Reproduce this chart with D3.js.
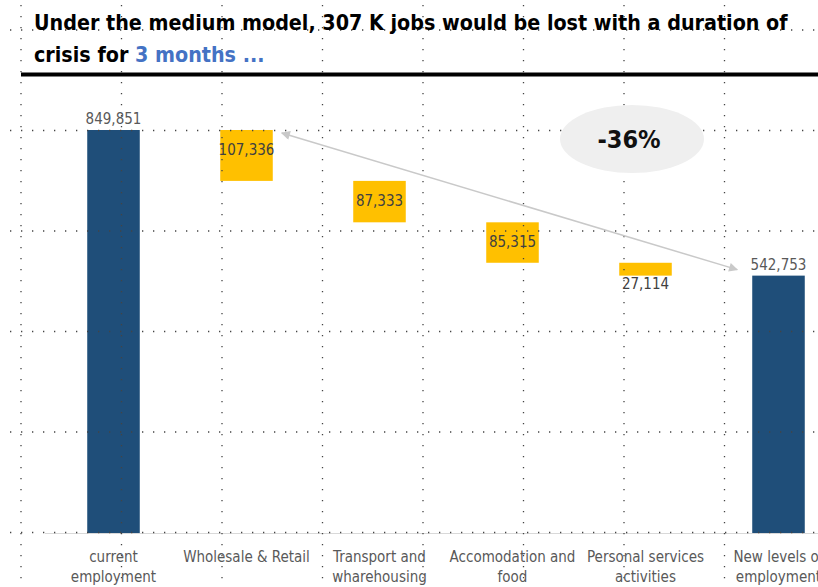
<!DOCTYPE html>
<html>
<head>
<meta charset="utf-8">
<script src="https://cdn.jsdelivr.net/npm/d3@7"></script>
<style>
  html, body { margin: 0; padding: 0; background: #fff; }
  svg { display: block; }
  text { font-family: "Liberation Sans Narrow", "DejaVu Sans Condensed", sans-serif; }
</style>
</head>
<body>
<svg width="818" height="587"></svg>
<script>
// chart data
const categories = ['current employment', 'Wholesale & Retail', 'Transport and wharehousing',
  'Accomodation and food', 'Personal services activities', 'New levels of employment']
const categoryLines = [['current', 'employment'], ['Wholesale & Retail'], ['Transport and', 'wharehousing'],
  ['Accomodation and', 'food'], ['Personal services', 'activities'], ['New levels of', 'employment']]
const values = [849851, -107336, -87333, -85315, -27114, 542753]
const kinds = ['total', 'loss', 'loss', 'loss', 'loss', 'total']
const changeLabel = '-36%'
const titleLine1 = 'Under the medium model, 307 K jobs would be lost with a duration of'
const titleLine2a = 'crisis for '
const titleLine2b = '3 months ...'

const W = 818, H = 587
const svg = d3.select('svg')

// waterfall steps
let running = 0
const steps = values.map((v, i) => {
  let y0, y1
  if (kinds[i] === 'total') {
    y0 = 0; y1 = v; running = v
  } else {
    y1 = running; y0 = running + v; running = y0
  }
  return { cat: categories[i], lines: categoryLines[i], value: Math.abs(v), kind: kinds[i], y0, y1 }
})

const x = d3.scaleBand().domain(categories).range([47, 845])
const barW = x.bandwidth() * 0.395
const y = d3.scaleLinear().domain([0, values[0]]).range([533, 130])
const fmt = d3.format(',')

// bars
svg.append('g').selectAll('rect')
  .data(steps)
  .join('rect')
  .attr('x', d => x(d.cat) + (x.bandwidth() - barW) / 2)
  .attr('width', barW)
  .attr('y', d => y(d.y1))
  .attr('height', d => y(d.y0) - y(d.y1))
  .attr('fill', d => d.kind === 'total' ? '#1f4e79' : '#ffc000')

// axis baseline
svg.append('line')
  .attr('x1', 45).attr('x2', W)
  .attr('y1', y(0) + 0.5).attr('y2', y(0) + 0.5)
  .attr('stroke', '#d9d9d9').attr('stroke-width', 1)

// sheet gridlines (dotted)
const grid = svg.append('g').attr('stroke', '#444').attr('stroke-width', 1.3)
  .attr('stroke-dasharray', '1.3,9.7').attr('stroke-linecap', 'butt')
d3.range(8).forEach(k => {
  const gx = 21 + k * 100.5
  grid.append('line').attr('x1', gx).attr('x2', gx).attr('y1', 5).attr('y2', H)
})
d3.range(6).forEach(k => {
  const gy = 30 + k * 100.5
  grid.append('line').attr('x1', 10).attr('x2', W).attr('y1', gy).attr('y2', gy)
})

// value labels
svg.append('g').selectAll('text')
  .data(steps)
  .join('text')
  .attr('x', d => x(d.cat) + x.bandwidth() / 2)
  .attr('y', d => {
    if (d.kind === 'total') return y(d.y1) - 6
    const h = y(d.y0) - y(d.y1)
    if (h < 25) return y(d.y0) + 13
    return Math.min((y(d.y0) + y(d.y1)) / 2 + 5, y(d.y1) + 25)
  })
  .attr('text-anchor', 'middle')
  .attr('font-size', 15)
  .attr('fill', d => d.kind === 'total' ? '#595959' : '#404040')
  .text(d => fmt(d.value))

// category labels
const cl = svg.append('g').selectAll('text')
  .data(steps)
  .join('text')
  .attr('text-anchor', 'middle')
  .attr('font-size', 15)
  .attr('fill', '#595959')
cl.selectAll('tspan')
  .data(d => d.lines.map(l => ({ l, cx: x(d.cat) + x.bandwidth() / 2 })))
  .join('tspan')
  .attr('x', d => d.cx)
  .attr('y', (d, i) => 562 + i * 20)
  .text(d => d.l)

// arrow between first and last totals
const defs = svg.append('defs')
defs.append('marker')
  .attr('id', 'ah')
  .attr('viewBox', '0 0 10 10')
  .attr('refX', 9).attr('refY', 5)
  .attr('markerWidth', 7).attr('markerHeight', 6)
  .attr('orient', 'auto-start-reverse')
  .append('path').attr('d', 'M0,0L10,5L0,10z').attr('fill', '#c9c9c9')
const first = steps[1], last = steps[steps.length - 1]
svg.append('line')
  .attr('x1', x(first.cat) + (x.bandwidth() + barW) / 2 + 9)
  .attr('y1', y(first.y1) + 3)
  .attr('x2', x(last.cat) + (x.bandwidth() - barW) / 2 - 15)
  .attr('y2', y(last.y1) - 6)
  .attr('stroke', '#c9c9c9').attr('stroke-width', 1.5)
  .attr('marker-start', 'url(#ah)').attr('marker-end', 'url(#ah)')

// change bubble
svg.append('ellipse')
  .attr('cx', 632).attr('cy', 139).attr('rx', 72).attr('ry', 34)
  .attr('fill', '#efefef')
svg.append('text')
  .attr('x', 629).attr('y', 148)
  .attr('text-anchor', 'middle')
  .attr('font-size', 25).attr('font-weight', 'bold').attr('fill', '#111')
  .text(changeLabel)

// title
svg.append('text')
  .attr('x', 34).attr('y', 30)
  .attr('font-size', 21.3).attr('font-weight', 'bold').attr('fill', '#000')
  .text(titleLine1)
const t2 = svg.append('text')
  .attr('x', 34).attr('y', 62)
  .attr('font-size', 21.3).attr('font-weight', 'bold').attr('fill', '#000')
t2.append('tspan').text(titleLine2a)
t2.append('tspan').attr('fill', '#4472c4').text(titleLine2b)
svg.append('rect')
  .attr('x', 21).attr('y', 72.5).attr('width', W - 21).attr('height', 4)
  .attr('fill', '#000')
</script>
</body>
</html>
